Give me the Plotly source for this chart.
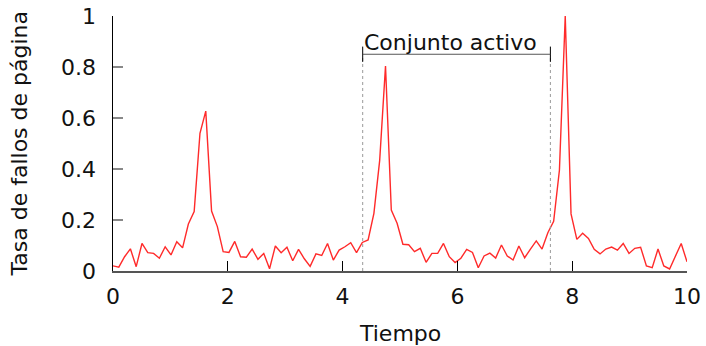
import numpy as np
import plotly.graph_objects as go

# --- data ---
n_points = 100
tiempo = np.linspace(0, 10, n_points)
tasa_fallos = [
    0.020, 0.015, 0.056, 0.087, 0.017, 0.108, 0.072, 0.069, 0.050, 0.095,
    0.063, 0.115, 0.091, 0.184, 0.233, 0.540, 0.627, 0.235, 0.174, 0.076,
    0.073, 0.116, 0.056, 0.054, 0.086, 0.046, 0.069, 0.009, 0.098, 0.072,
    0.093, 0.040, 0.085, 0.048, 0.018, 0.067, 0.061, 0.108, 0.043, 0.082,
    0.095, 0.111, 0.072, 0.112, 0.122, 0.226, 0.435, 0.804, 0.239, 0.187,
    0.105, 0.103, 0.076, 0.089, 0.034, 0.069, 0.069, 0.108, 0.056, 0.033,
    0.050, 0.085, 0.073, 0.013, 0.059, 0.070, 0.051, 0.102, 0.059, 0.043,
    0.098, 0.052, 0.086, 0.118, 0.086, 0.150, 0.195, 0.396, 1.000, 0.224,
    0.124, 0.148, 0.128, 0.085, 0.067, 0.086, 0.094, 0.082, 0.108, 0.069,
    0.089, 0.093, 0.020, 0.013, 0.086, 0.020, 0.008, 0.059, 0.108, 0.036,
]
x_ticks = [0, 2, 4, 6, 8, 10]
y_ticks = [0, 0.2, 0.4, 0.6, 0.8, 1]
y_tick_labels = ["0", "0.2", "0.4", "0.6", "0.8", "1"]
ws_start, ws_end = 4.35, 7.62
bracket_y = 0.85
bracket_label = "Conjunto activo"
x_title = "Tiempo"
y_title = "Tasa de fallos de página"

FONT = "DejaVu Sans"
FS = 22

fig = go.Figure()
fig.add_trace(go.Scatter(
    x=tiempo, y=tasa_fallos, mode="lines",
    line=dict(color="#ff2a2a", width=1.4),
    showlegend=False, hoverinfo="skip",
))

shapes = []
for xv in (ws_start, ws_end):
    shapes.append(dict(type="line", xref="x", yref="y", x0=xv, x1=xv, y0=0, y1=bracket_y,
                       line=dict(color="#999999", width=1, dash="dot")))
    shapes.append(dict(type="line", xref="x", yref="y", x0=xv, x1=xv,
                       y0=bracket_y - 0.03, y1=bracket_y + 0.03,
                       line=dict(color="#000000", width=1)))
shapes.append(dict(type="line", xref="x", yref="y", x0=ws_start, x1=ws_end,
                   y0=bracket_y, y1=bracket_y, line=dict(color="#555555", width=1)))

fig.update_layout(
    width=706, height=346,
    margin=dict(l=113, r=19, t=16, b=75, autoexpand=False),
    paper_bgcolor="white", plot_bgcolor="white",
    font=dict(family=FONT, size=FS, color="#111111"),
    shapes=shapes,
    annotations=[
        dict(x=(ws_start + ws_end) / 2, y=bracket_y, xref="x", yref="y",
             text=bracket_label, showarrow=False, yanchor="bottom", xshift=-6, yshift=-3,
             font=dict(family=FONT, size=FS, color="#111111")),
        dict(x=0.5, y=0, xref="paper", yref="paper", text=x_title, showarrow=False,
             yanchor="middle", yshift=-62, font=dict(family=FONT, size=FS, color="#111111")),
        dict(x=0, y=0.5, xref="paper", yref="paper", text=y_title, showarrow=False,
             textangle=-90, xanchor="center", xshift=-94,
             font=dict(family=FONT, size=FS, color="#111111")),
    ],
    xaxis=dict(
        range=[0, 10], tickvals=x_ticks, ticktext=[str(v) for v in x_ticks],
        ticks="inside", ticklen=10, tickcolor="#000000", tickwidth=1,
        showline=True, linecolor="#555555", linewidth=1.5, mirror=False,
        showgrid=False, zeroline=False, automargin=False,
        ticklabelstandoff=5,
    ),
    yaxis=dict(
        range=[0, 1], tickvals=y_ticks, ticktext=y_tick_labels,
        ticks="inside", ticklen=10, tickcolor="#888888", tickwidth=1.5,
        showline=True, linecolor="#000000", linewidth=1.5, mirror=False,
        showgrid=False, zeroline=False, automargin=False,
        ticklabelstandoff=11,
    ),
)

fig.write_html(
    "out.html",
    config={"displayModeBar": False, "staticPlot": True},
    post_script="document.body.style.margin='0';document.body.style.overflow='hidden';",
)
